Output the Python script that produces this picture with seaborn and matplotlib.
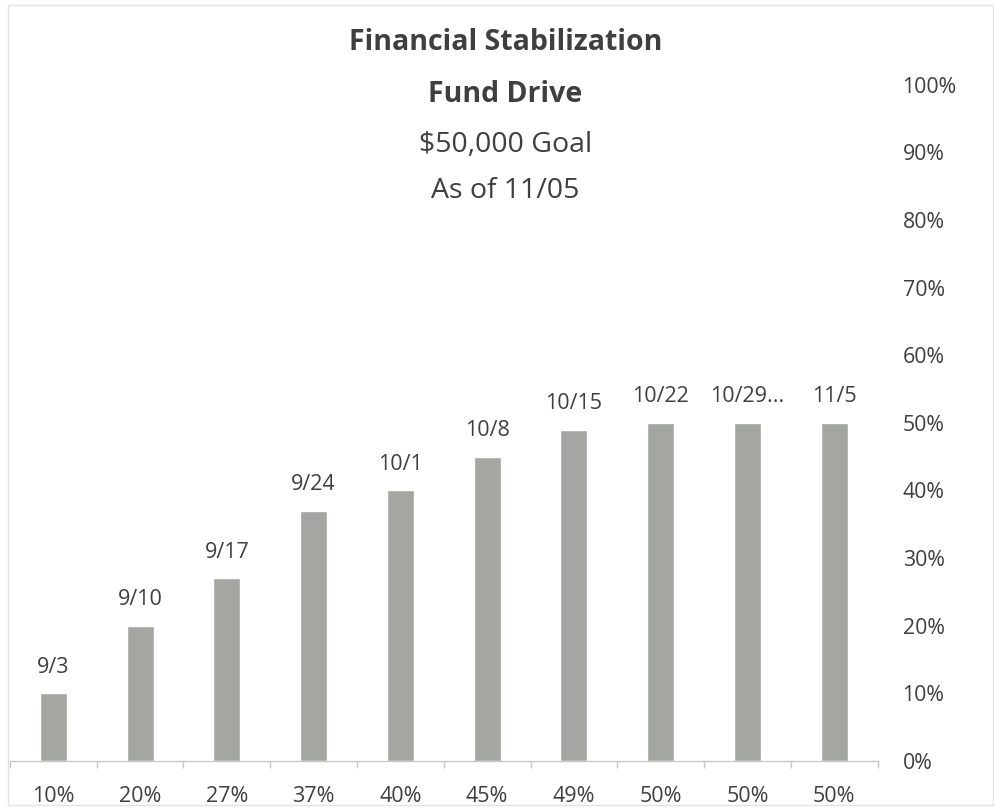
import numpy as np
import pandas as pd
import matplotlib
matplotlib.use('Agg')
import matplotlib.pyplot as plt
import seaborn as sns
from matplotlib.ticker import FixedLocator, PercentFormatter
from matplotlib.patches import Rectangle

# ──────────────────────────────────────────────
# DATA
# ──────────────────────────────────────────────
week_labels  = ['9/3', '9/10', '9/17', '9/24', '10/1', '10/8', '10/15', '10/22', '10/29...', '11/5']
pct_labels   = ['10%', '20%', '27%', '37%', '40%', '45%', '49%', '50%', '50%', '50%']
pct_of_goal  = [0.10, 0.20, 0.27, 0.37, 0.40, 0.45, 0.49, 0.50, 0.50, 0.50]
title_lines  = ['Financial Stabilization', 'Fund Drive', '$50,000 Goal', 'As of 11/05']

BAR_COLOR  = '#a4a6a2'
TEXT_COLOR = '#3f3f3f'
AXIS_COLOR = '#c8c8c8'

df = pd.DataFrame({'pos': range(len(pct_labels)), 'label': pct_labels, 'value': pct_of_goal})

sns.set_theme(style='white')
plt.rcParams['font.family'] = ['Open Sans', 'DejaVu Sans']

fig = plt.figure(figsize=(9.95, 8.09), dpi=100)
ax = fig.add_axes([0.010, 0.0593, 0.872, 0.836])

sns.barplot(data=df, x='pos', y='value', color=BAR_COLOR, width=0.31,
            saturation=1, ax=ax)

ax.set_ylim(0, 1.0)
ax.set_xlim(-0.5, len(pct_labels) - 0.5)

# right-hand percentage axis, no spine
ax.yaxis.tick_right()
ax.yaxis.set_major_locator(FixedLocator(np.arange(0, 1.01, 0.1)))
ax.yaxis.set_major_formatter(PercentFormatter(1.0, decimals=0))
ax.tick_params(axis='y', length=0, pad=18, labelsize=15.3, labelcolor=TEXT_COLOR)

# category axis: labels centred, small tick marks between categories
ax.set_xticks(range(len(pct_labels)))
ax.set_xticklabels(pct_labels)
ax.set_xticks(np.arange(-0.5, len(pct_labels)), minor=True)
ax.tick_params(axis='x', which='major', length=0, pad=18, labelsize=15.5, labelcolor=TEXT_COLOR)
ax.tick_params(axis='x', which='minor', bottom=True, length=5, width=1, color=AXIS_COLOR)
ax.set_xlabel('')
ax.set_ylabel('')

for side in ['top', 'right', 'left']:
    ax.spines[side].set_visible(False)
ax.spines['bottom'].set_color(AXIS_COLOR)
ax.spines['bottom'].set_linewidth(1)

# week labels above each bar
for i, (wk, v) in enumerate(zip(week_labels, pct_of_goal)):
    ax.annotate(wk, (i, v), xytext=(0, 19), textcoords='offset points',
                ha='center', va='center', fontsize=15.5, color=TEXT_COLOR)

# title block
title_y = [0.938, 0.874, 0.812, 0.755]
for line, y, w in zip(title_lines, title_y, ['bold', 'bold', 'normal', 'normal']):
    fig.text(0.508, y, line, ha='center', va='baseline', fontsize=20.5,
             fontweight=w, color=TEXT_COLOR)

# faint chart border
fig.patches.append(Rectangle((0.008, 0.005), 0.99, 0.989, transform=fig.transFigure,
                             fill=False, edgecolor='#e2e2e2', linewidth=1))

fig.savefig('out.png', dpi=100)
